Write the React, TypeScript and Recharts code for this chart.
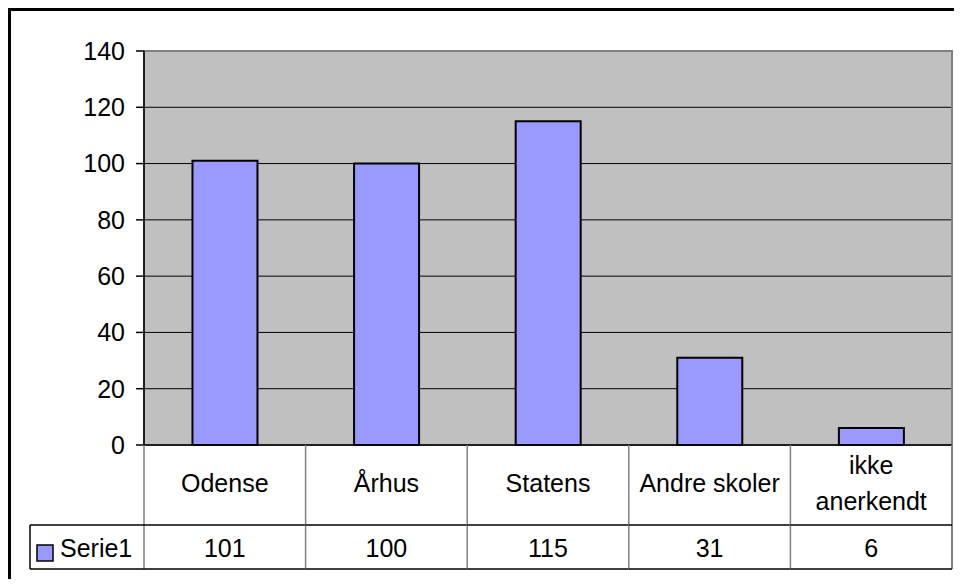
import React from "react";
import { BarChart, Bar, XAxis, YAxis, CartesianGrid, ReferenceArea } from "recharts";

const categories = ["Odense", "Århus", "Statens", "Andre skoler", "ikke anerkendt"];
const tickLines = [["Odense"], ["Århus"], ["Statens"], ["Andre skoler"], ["ikke", "anerkendt"]];
const serie1 = [101, 100, 115, 31, 6];
const yTicks = [0, 20, 40, 60, 80, 100, 120, 140];
const seriesName = "Serie1";

const data = categories.map((name, i) => ({ name, value: serie1[i] }));

const FONT = "'Liberation Sans', Arial, sans-serif";

function TableTick(props: any) {
  const { x, y, payload } = props;
  const i = payload.index ?? props.index ?? 0;
  const half = payload.offset ?? 80.8;
  const left = x - half;
  const right = x + half;
  const lines = tickLines[i] || [payload.value];
  const last = i === categories.length - 1;
  const legendLeft = 19;
  return (
    <g fontFamily={FONT} fontSize={25} fill="#000">
      {lines.length === 1 ? (
        <text x={x} y={y + 47} textAnchor="middle">{lines[0]}</text>
      ) : (
        lines.map((t: string, k: number) => (
          <text key={k} x={x} y={y + 29 + k * 36} textAnchor="middle">{t}</text>
        ))
      )}
      <text x={x} y={y + 112} textAnchor="middle">{serie1[i]}</text>
      <line x1={left} x2={left} y1={y} y2={y + 124} stroke="#808080" strokeWidth={1.5} />
      {last && <line x1={right} x2={right} y1={y} y2={y + 124} stroke="#808080" strokeWidth={2} />}
      <line x1={i === 0 ? legendLeft : left} x2={right} y1={y + 80} y2={y + 80} stroke="#000" strokeWidth={1.5} />
      <line x1={i === 0 ? legendLeft : left} x2={right} y1={y + 124} y2={y + 124} stroke="#000" strokeWidth={1.5} />
      {i === 0 && (
        <g>
          <line x1={legendLeft} x2={legendLeft} y1={y + 80} y2={y + 124} stroke="#000" strokeWidth={1.5} />
          <rect x={legendLeft + 7} y={y + 100} width={16} height={16} fill="#9999FF" stroke="#000" strokeWidth={1.5} />
          <text x={legendLeft + 30} y={y + 112}>{seriesName}</text>
        </g>
      )}
    </g>
  );
}

export default function App() {
  return (
    <div
      style={{
        width: 954,
        height: 571,
        boxSizing: "border-box",
        borderTop: "3px solid #000",
        borderLeft: "3px solid #000",
        background: "#fff",
      }}
    >
      <BarChart
        width={951}
        height={568}
        data={data}
        margin={{ top: 40, right: 10, left: 0, bottom: 0 }}
        barCategoryGap="30%"
      >
        <CartesianGrid vertical={false} fill="#C0C0C0" fillOpacity={1} stroke="#000" strokeWidth={1} />
        <XAxis
          dataKey="name"
          height={134}
          interval={0}
          tickLine={false}
          tickSize={0}
          tickMargin={0}
          axisLine={{ stroke: "#000", strokeWidth: 1.5 }}
          tick={<TableTick />}
        />
        <YAxis
          width={133}
          domain={[0, 140]}
          ticks={yTicks}
          interval={0}
          tickSize={8}
          tickMargin={11}
          axisLine={{ stroke: "#000", strokeWidth: 1.5 }}
          tickLine={{ stroke: "#000", strokeWidth: 1.5 }}
          tick={{ fill: "#000", fontSize: 25, fontFamily: FONT }}
        />
        <ReferenceArea y1={0} y2={140} fill="none" stroke="#808080" strokeWidth={2} ifOverflow="visible" />
        <Bar dataKey="value" fill="#9999FF" stroke="#000" strokeWidth={2} isAnimationActive={false} />
      </BarChart>
    </div>
  );
}
